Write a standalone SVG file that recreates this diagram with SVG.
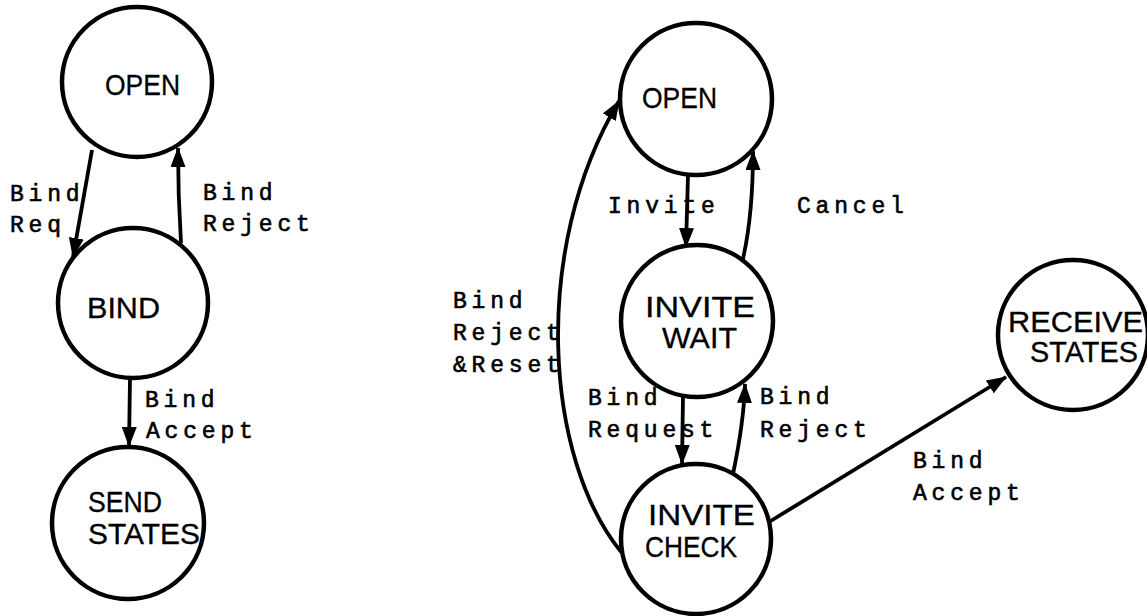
<svg xmlns="http://www.w3.org/2000/svg" width="1147" height="616" viewBox="0 0 1147 616">
<style>
  .node { fill: #fff; stroke: #000; stroke-width: 4.5; }
  .nl { font-family: "Liberation Sans", Arial, sans-serif; font-size: 29px; fill: #000; stroke: #000; stroke-width: 0.3; }
  .edge { fill: none; stroke: #000; stroke-width: 3.8; }
  .el { font-family: "Liberation Mono", "Courier New", monospace; font-size: 23px; letter-spacing: 4.8px; fill: #000; stroke: #000; stroke-width: 0.6; }
</style>
<defs>
  <marker id="arr" markerUnits="userSpaceOnUse" markerWidth="20" markerHeight="15" refX="19" refY="7.5" orient="auto">
    <path d="M0,0 L20,7.5 L0,15 z" fill="#000"/>
  </marker>
</defs>
<rect width="1147" height="616" fill="#fff"/>

<g id="connectors">
  <path class="edge" d="M92,150 L73,257" marker-end="url(#arr)"/>
  <path class="edge" d="M181,243 Q178,195 178,148" marker-end="url(#arr)"/>
  <path class="edge" d="M130,378 L129,446" marker-end="url(#arr)"/>
  <path class="edge" d="M688,175 L686,247" marker-end="url(#arr)"/>
  <path class="edge" d="M742,263 C750,230 753,190 753,151" marker-end="url(#arr)"/>
  <path class="edge" d="M683,397 L682,464" marker-end="url(#arr)"/>
  <path class="edge" d="M733,474 C738,450 744,420 745,384" marker-end="url(#arr)"/>
  <path class="edge" d="M622,553 C545,460 530,250 619,101" marker-end="url(#arr)"/>
  <path class="edge" d="M769,522 L1006,377" marker-end="url(#arr)"/>
</g>

<g id="edge-labels">
  <text class="el" x="10" y="201">Bind</text>
  <text class="el" x="10" y="232">Req</text>
  <text class="el" x="203" y="200">Bind</text>
  <text class="el" x="203" y="231">Reject</text>
  <text class="el" x="145" y="407">Bind</text>
  <text class="el" x="146" y="438">Accept</text>
  <text class="el" x="608" y="213">Invite</text>
  <text class="el" x="797" y="213">Cancel</text>
  <text class="el" x="453" y="308">Bind</text>
  <text class="el" x="453" y="340">Reject</text>
  <text class="el" x="453" y="372">&amp;Reset</text>
  <text class="el" x="588" y="405">Bind</text>
  <text class="el" x="588" y="437">Request</text>
  <text class="el" x="760" y="404">Bind</text>
  <text class="el" x="760" y="437">Reject</text>
  <text class="el" x="913" y="468">Bind</text>
  <text class="el" x="913" y="500">Accept</text>
</g>

<g id="node-open-left">
  <circle class="node" cx="137" cy="82" r="75"/>
  <text class="nl" x="105" y="95" textLength="75" lengthAdjust="spacingAndGlyphs">OPEN</text>
</g>
<g id="node-bind">
  <circle class="node" cx="133" cy="303" r="75"/>
  <text class="nl" x="87" y="318" textLength="73" lengthAdjust="spacingAndGlyphs">BIND</text>
</g>
<g id="node-send-states">
  <circle class="node" cx="128" cy="523" r="76"/>
  <text class="nl" x="88" y="512" textLength="74" lengthAdjust="spacingAndGlyphs">SEND</text>
  <text class="nl" x="88" y="544" textLength="112" lengthAdjust="spacingAndGlyphs">STATES</text>
</g>
<g id="node-open-right">
  <circle class="node" cx="696" cy="99" r="76"/>
  <text class="nl" x="642" y="108" textLength="75" lengthAdjust="spacingAndGlyphs">OPEN</text>
</g>
<g id="node-invite-wait">
  <circle class="node" cx="697" cy="321" r="76"/>
  <text class="nl" x="645" y="317" textLength="110" lengthAdjust="spacingAndGlyphs">INVITE</text>
  <text class="nl" x="662" y="348" textLength="75" lengthAdjust="spacingAndGlyphs">WAIT</text>
</g>
<g id="node-invite-check">
  <circle class="node" cx="696" cy="539" r="75"/>
  <text class="nl" x="648" y="525" textLength="107" lengthAdjust="spacingAndGlyphs">INVITE</text>
  <text class="nl" x="645" y="557" textLength="92" lengthAdjust="spacingAndGlyphs">CHECK</text>
</g>
<g id="node-receive-states">
  <circle class="node" cx="1073" cy="335" r="75"/>
  <text class="nl" x="1008" y="332" textLength="135" lengthAdjust="spacingAndGlyphs">RECEIVE</text>
  <text class="nl" x="1030" y="362" textLength="108" lengthAdjust="spacingAndGlyphs">STATES</text>
</g>
</svg>
